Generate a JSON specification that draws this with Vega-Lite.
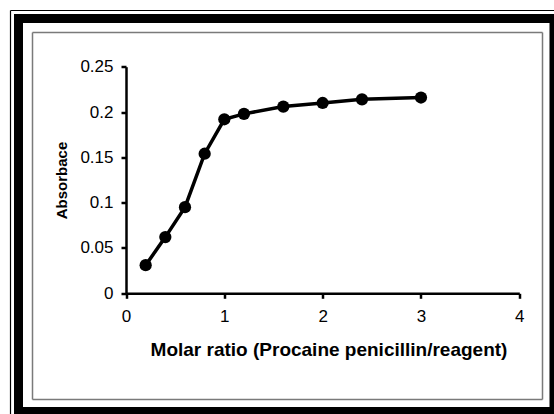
{
  "$schema": "https://vega.github.io/schema/vega-lite/v6.json",
  "width": 535.5,
  "height": 393,
  "autosize": {"type": "none"},
  "padding": {"left": 18.5, "top": 18.5, "right": 0, "bottom": 2.5},
  "background": "white",
  "config": {
    "view": {"stroke": "black", "strokeWidth": 9, "fill": "white"},
    "font": "Liberation Sans"
  },
  "data": {
    "values": [
      {"ratio": 0.2, "absorbance": 0.031},
      {"ratio": 0.4, "absorbance": 0.062},
      {"ratio": 0.6, "absorbance": 0.095},
      {"ratio": 0.8, "absorbance": 0.154},
      {"ratio": 1.0, "absorbance": 0.192},
      {"ratio": 1.2, "absorbance": 0.198},
      {"ratio": 1.6, "absorbance": 0.206},
      {"ratio": 2.0, "absorbance": 0.21},
      {"ratio": 2.4, "absorbance": 0.214},
      {"ratio": 3.0, "absorbance": 0.216}
    ]
  },
  "layer": [
    {
      "encoding": {
        "x": {
          "field": "ratio",
          "type": "quantitative",
          "scale": {"domain": [0, 4], "range": [107.5, 500.8], "nice": false, "zero": false},
          "axis": {
            "orient": "bottom",
            "offset": -118.2,
            "values": [0, 1, 2, 3, 4],
            "format": "~g",
            "grid": false,
            "domainColor": "black",
            "domainWidth": 2.5,
            "tickColor": "black",
            "tickWidth": 2.5,
            "tickSize": 5,
            "labelFontSize": 17,
            "labelColor": "black",
            "labelPadding": 10,
            "labelFlush": false,
            "labelOverlap": false,
            "title": "Molar ratio (Procaine penicillin/reagent)",
            "titleFontSize": 19,
            "titleFontWeight": "bold",
            "titleColor": "black",
            "titlePadding": 16,
            "titleX": 310
          }
        },
        "y": {
          "field": "absorbance",
          "type": "quantitative",
          "scale": {"domain": [0, 0.25], "range": [274.8, 48.2], "nice": false},
          "axis": {
            "orient": "left",
            "offset": -107.5,
            "values": [0, 0.05, 0.1, 0.15, 0.2, 0.25],
            "format": "~g",
            "grid": false,
            "domainColor": "black",
            "domainWidth": 2.5,
            "tickColor": "black",
            "tickWidth": 2.5,
            "tickSize": 5,
            "labelFontSize": 17,
            "labelColor": "black",
            "labelPadding": 8,
            "labelFlush": false,
            "labelOverlap": false,
            "title": "Absorbace",
            "titleFontSize": 15,
            "titleFontWeight": "bold",
            "titleColor": "black",
            "titlePadding": 10
          }
        }
      },
      "layer": [
        {"mark": {"type": "line", "color": "black", "strokeWidth": 3.5}},
        {"mark": {"type": "point", "filled": true, "color": "black", "opacity": 1, "size": 150}}
      ]
    },
    {
      "mark": {"type": "point", "opacity": 0},
      "encoding": {
        "x": {
          "field": "ratio", "type": "quantitative",
          "scale": {"domain": [0, 4], "range": [13.5, 523.5], "nice": false, "zero": false},
          "axis": {"orient": "top", "offset": -13.5, "domainColor": "#7a7a7a", "domainWidth": 1.5, "ticks": false, "labels": false, "title": null, "grid": false}
        },
        "y": {
          "field": "absorbance", "type": "quantitative",
          "scale": {"domain": [0, 0.25], "range": [380.5, 13.5], "nice": false},
          "axis": {"orient": "right", "offset": -12, "domainColor": "#7a7a7a", "domainWidth": 1.5, "ticks": false, "labels": false, "title": null, "grid": false}
        }
      }
    },
    {
      "mark": {"type": "point", "opacity": 0},
      "encoding": {
        "x": {
          "field": "ratio", "type": "quantitative",
          "scale": {"domain": [0, 4], "range": [13.5, 523.5], "nice": false, "zero": false},
          "axis": {"orient": "bottom", "offset": -12.5, "domainColor": "#7a7a7a", "domainWidth": 1.5, "ticks": false, "labels": false, "title": null, "grid": false}
        },
        "y": {
          "field": "absorbance", "type": "quantitative",
          "scale": {"domain": [0, 0.25], "range": [380.5, 13.5], "nice": false},
          "axis": {"orient": "left", "offset": -13.5, "domainColor": "#7a7a7a", "domainWidth": 1.5, "ticks": false, "labels": false, "title": null, "grid": false}
        }
      }
    },
    {
      "mark": {"type": "point", "opacity": 0},
      "encoding": {
        "x": {
          "field": "ratio", "type": "quantitative",
          "scale": {"domain": [0, 4], "range": [-8.5, 535.5], "nice": false, "zero": false},
          "axis": {"orient": "top", "offset": 8.5, "domainColor": "black", "domainWidth": 1.2, "ticks": false, "labels": false, "title": null, "grid": false}
        },
        "y": {
          "field": "absorbance", "type": "quantitative",
          "scale": {"domain": [0, 0.25], "range": [395.5, -8.5], "nice": false},
          "axis": {"orient": "left", "offset": 8.5, "domainColor": "black", "domainWidth": 1.2, "ticks": false, "labels": false, "title": null, "grid": false}
        }
      }
    }
  ],
  "resolve": {"scale": {"x": "independent", "y": "independent"}}
}
